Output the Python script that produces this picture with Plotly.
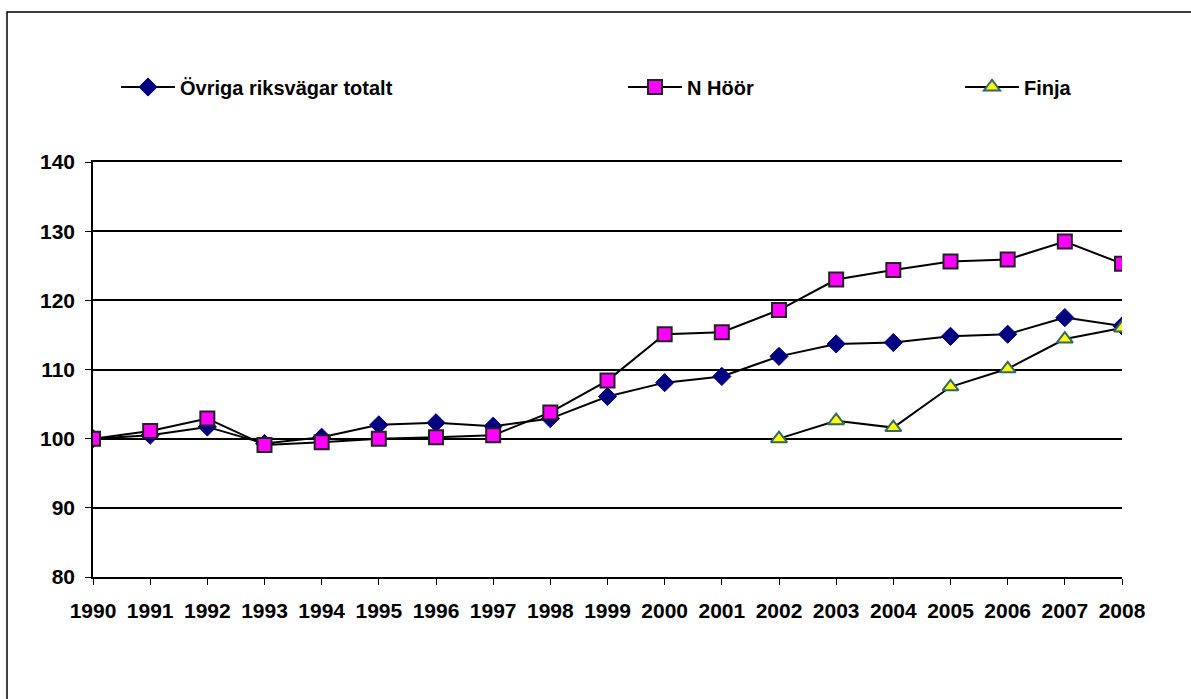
import plotly.graph_objects as go

years = [str(y) for y in range(1990, 2009)]
ovriga = [100, 100.5, 101.7, 99.3, 100.2, 102.0, 102.3, 101.8, 102.9, 106.1,
          108.1, 109.0, 111.9, 113.7, 113.9, 114.8, 115.1, 117.5, 116.3]
n_hoor = [100, 101.1, 102.9, 99.1, 99.5, 100.0, 100.2, 100.5, 103.8, 108.4,
          115.1, 115.4, 118.6, 123.0, 124.4, 125.6, 125.9, 128.5, 125.3]
finja_years = [str(y) for y in range(2002, 2009)]
finja = [100, 102.6, 101.6, 107.5, 110.1, 114.4, 116.0]
y_ticks = [80, 90, 100, 110, 120, 130, 140]

names = ["Övriga riksvägar totalt", "N Höör", "Finja"]

W, H = 1191, 699
L, R, T, B = 93, 1122, 162, 577

fig = go.Figure()
fig.add_trace(go.Scatter(
    x=years, y=ovriga, name=names[0], mode="lines+markers",
    line=dict(color="black", width=2),
    marker=dict(symbol="diamond", size=14, color="#000080",
                line=dict(color="#000080", width=1)),
    legend="legend"))
fig.add_trace(go.Scatter(
    x=years, y=n_hoor, name=names[1], mode="lines+markers",
    line=dict(color="black", width=2),
    marker=dict(symbol="square", size=14, color="#FF00FF",
                line=dict(color="#222222", width=2)),
    legend="legend2"))
fig.add_trace(go.Scatter(
    x=finja_years, y=finja, name=names[2], mode="lines+markers",
    line=dict(color="black", width=2),
    marker=dict(symbol="triangle-up", size=14, color="#FFFF00",
                line=dict(color="#336666", width=2)),
    legend="legend3"))

pw, ph = R - L, B - T
def px(x):
    return (x - L) / pw
def py(y):
    return (B - y) / ph

legend_font = dict(family="Liberation Sans, Arial, sans-serif", size=20,
                   color="black", weight="bold")
leg_common = dict(font=legend_font, bgcolor="rgba(0,0,0,0)", borderwidth=0,
                  xanchor="left", yanchor="middle", orientation="h",
                  itemwidth=54)

fig.update_layout(
    width=W, height=H,
    margin=dict(l=L, r=W - R, t=T, b=H - B, pad=0),
    plot_bgcolor="white", paper_bgcolor="white",
    showlegend=True,
    legend=dict(x=px(116), y=py(87), **leg_common),
    legend2=dict(x=px(623), y=py(87), **leg_common),
    legend3=dict(x=px(960), y=py(87), **leg_common),
    xaxis=dict(
        type="category", categoryorder="array", categoryarray=years,
        range=[0, len(years) - 1],
        showgrid=False, zeroline=False,
        showline=True, linecolor="black", linewidth=1.5, mirror=True,
        ticks="outside", ticklen=6, tickwidth=1, tickcolor="black",
        tickfont=dict(family="Liberation Sans, Arial, sans-serif",
                      size=21, color="black", weight="bold"),
        ticklabelstandoff=8,
    ),
    yaxis=dict(
        range=[80, 140], tickvals=y_ticks,
        showgrid=True, gridcolor="black", gridwidth=1.5,
        zeroline=False,
        showline=True, linecolor="black", linewidth=1.5,
        ticks="outside", ticklen=6, tickwidth=1, tickcolor="black",
        tickfont=dict(family="Liberation Sans, Arial, sans-serif",
                      size=21, color="black", weight="bold"),
        ticklabelstandoff=6,
    ),
)

# outer chart frame (clipped at right/bottom in the reference)
fig.add_shape(type="rect", xref="paper", yref="paper",
              x0=px(7), x1=px(W + 20), y0=py(H + 20), y1=py(12),
              line=dict(color="black", width=1.5), layer="below")

fig.write_html("out.html", config={"displayModeBar": False},
               post_script="document.body.style.margin='0';document.body.style.overflow='hidden';")
